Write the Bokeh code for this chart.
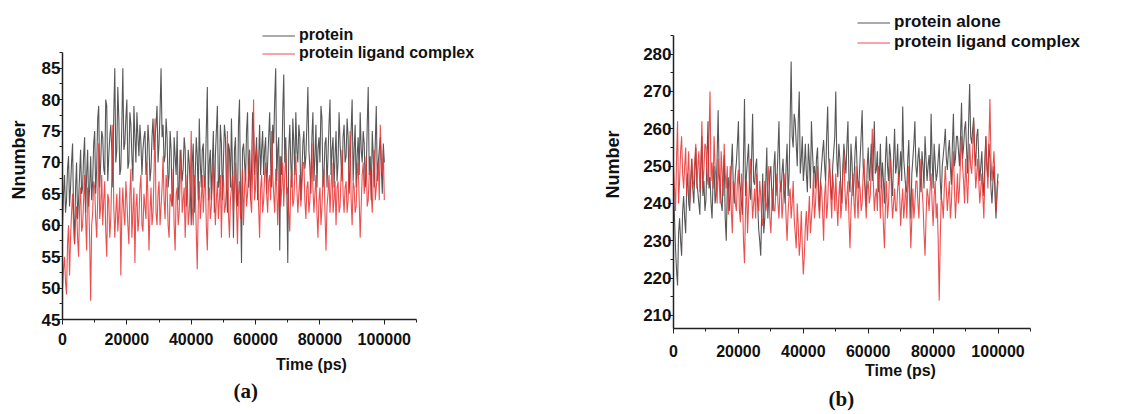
from bokeh.plotting import figure
from bokeh.layouts import row
from bokeh.models import (Range1d, SingleIntervalTicker, Legend, LegendItem, Title,
                          NumeralTickFormatter)
from bokeh.embed import file_html
from bokeh.resources import INLINE

STEP = 625  # ps between the samples of each list; the *_mid lists sit halfway between

# ---- panel (a) ----
a_protein = [
    60, 68, 64, 71, 66, 73, 57, 70, 64, 72,
    66, 74, 68, 63, 71, 67, 75, 69, 79, 70,
    74, 68, 79, 71, 76, 66, 85, 72, 77, 69,
    85, 73, 80, 70, 76, 67, 74, 78, 71, 73,
    72, 75, 70, 73, 69, 77, 74, 79, 73, 85,
    76, 71, 74, 68, 72, 65, 71, 75, 66, 70,
    69, 72, 65, 70, 60, 73, 68, 71, 77, 66,
    73, 68, 82, 70, 64, 75, 71, 79, 67, 73,
    70, 74, 62, 72, 77, 58, 74, 63, 80, 54,
    73, 67, 78, 72, 69, 75, 71, 64, 76, 72,
    68, 74, 70, 78, 66, 73, 85, 72, 56, 68,
    84, 74, 54, 76, 66, 73, 78, 70, 74, 68,
    75, 71, 82, 69, 74, 67, 76, 72, 70, 77,
    68, 74, 71, 80, 72, 66, 75, 70, 73, 67,
    76, 71, 74, 69, 80, 72, 66, 74, 78, 70,
    73, 68, 82, 71, 75, 66, 79, 70, 74, 65, 70,
]
a_protein_mid = [
    65, 62, 69, 63, 70, 62, 66, 61, 68, 65,
    71, 62, 72, 66, 64, 73, 65, 77, 66, 75,
    69, 80, 67, 74, 72, 78, 70, 82, 68, 76,
    72, 77, 69, 78, 71, 79, 70, 74, 76, 68,
    74, 68, 76, 67, 74, 72, 76, 70, 78, 74,
    70, 77, 66, 75, 63, 74, 68, 64, 72, 67,
    74, 63, 72, 66, 70, 62, 74, 64, 70, 72,
    66, 75, 64, 72, 70, 62, 75, 66, 76, 64,
    76, 66, 73, 66, 69, 72, 64, 76, 65, 72,
    70, 75, 66, 64, 78, 68, 74, 70, 68, 75,
    72, 65, 74, 70, 76, 80, 67, 74, 71, 78,
    70, 66, 72, 70, 77, 68, 72, 76, 64, 73,
    69, 76, 72, 65, 78, 71, 66, 74, 79, 66,
    73, 66, 76, 68, 74, 71, 67, 78, 70, 74,
    70, 77, 65, 75, 67, 76, 71, 68, 72, 75,
    66, 76, 68, 64, 71, 73, 67, 72, 69, 73,
]
a_complex = [
    50, 55, 49, 60, 58, 65, 57, 63, 55, 66,
    60, 68, 56, 64, 48, 62, 66, 58, 73, 63,
    60, 67, 55, 64, 61, 76, 58, 65, 62, 52,
    66, 60, 64, 57, 69, 62, 54, 65, 61, 68,
    59, 63, 70, 56, 66, 62, 77, 60, 67, 63,
    71, 61, 66, 58, 64, 69, 56, 66, 62, 72,
    64, 58, 68, 62, 75, 60, 66, 53, 67, 64,
    62, 68, 56, 66, 63, 70, 60, 67, 64, 58,
    68, 63, 75, 58, 66, 62, 70, 57, 67, 64,
    60, 69, 65, 72, 62, 80, 66, 70, 58, 68,
    64, 70, 62, 68, 75, 65, 69, 60, 71, 66,
    63, 72, 66, 59, 69, 64, 71, 62, 68, 66,
    70, 61, 67, 64, 73, 62, 68, 58, 66, 63,
    69, 56, 65, 62, 70, 64, 60, 67, 63, 72,
    62, 67, 64, 75, 60, 66, 63, 70, 58, 68,
    65, 71, 64, 69, 62, 72, 66, 70, 76, 68, 64,
]
a_complex_mid = [
    53, 51, 57, 52, 62, 60, 61, 58, 63, 59,
    64, 61, 66, 58, 60, 67, 61, 64, 61, 68,
    64, 59, 65, 58, 68, 63, 62, 59, 66, 62,
    62, 67, 60, 65, 58, 66, 63, 59, 66, 60,
    65, 61, 64, 62, 60, 68, 62, 65, 60, 66,
    64, 68, 60, 65, 63, 60, 65, 60, 67, 62,
    66, 63, 60, 66, 63, 68, 59, 63, 61, 68,
    66, 60, 64, 61, 67, 65, 64, 61, 68, 66,
    62, 66, 62, 64, 68, 66, 63, 65, 61, 69,
    66, 63, 68, 64, 68, 64, 72, 63, 66, 62,
    68, 65, 67, 64, 68, 62, 66, 66, 63, 70,
    68, 65, 62, 67, 63, 68, 66, 65, 63, 70,
    64, 66, 62, 69, 66, 65, 62, 64, 60, 67,
    62, 63, 68, 66, 62, 67, 66, 62, 68, 65,
    66, 62, 70, 64, 67, 62, 68, 64, 63, 70,
    68, 63, 68, 65, 68, 64, 68, 64, 71, 72,
]

# ---- panel (b) ----
b_protein = [
    244, 228, 218, 236, 226, 242, 232, 248, 238, 252,
    240, 255, 243, 237, 258, 246, 241, 262, 247, 236,
    250, 243, 265, 245, 238, 253, 230, 247, 242, 256,
    240, 251, 262, 244, 237, 268, 248, 256, 241, 264,
    245, 252, 233, 226, 248, 236, 255, 242, 250, 238,
    254, 246, 262, 243, 252, 240, 256, 248, 278, 255,
    262, 250, 270, 252, 246, 256, 243, 251, 262, 248,
    244, 255, 238, 250, 257, 246, 266, 249, 241, 254,
    270, 247, 252, 240, 256, 248, 262, 243, 251, 246,
    258, 244, 252, 265, 247, 239, 255, 250, 246, 262,
    249, 243, 256, 251, 240, 258, 246, 253, 242, 260,
    250, 245, 254, 266, 248, 243, 257, 236, 252, 262,
    247, 255, 243, 250, 258, 246, 253, 264, 244, 251,
    248, 256, 241, 253, 260, 249, 257, 245, 264, 252,
    258, 250, 267, 255, 262, 248, 272, 256, 263, 250,
    260, 246, 254, 242, 258, 247, 252, 240, 250, 236, 248,
]
b_protein_mid = [
    236, 222, 232, 230, 238, 236, 244, 240, 246, 244,
    248, 246, 240, 250, 242, 238, 252, 244, 240, 246,
    240, 252, 248, 240, 248, 236, 244, 238, 250, 244,
    248, 256, 246, 240, 252, 242, 252, 244, 252, 246,
    250, 240, 230, 238, 232, 246, 236, 248, 242, 250,
    242, 254, 246, 248, 244, 250, 242, 262, 258, 264,
    256, 262, 248, 258, 250, 248, 256, 244, 254, 250,
    252, 244, 246, 254, 250, 258, 252, 244, 250, 258,
    252, 256, 244, 250, 252, 256, 246, 256, 242, 254,
    250, 246, 258, 250, 244, 250, 246, 256, 252, 248,
    254, 248, 244, 246, 252, 250, 256, 246, 252, 248,
    256, 249, 246, 252, 244, 252, 244, 248, 256, 250,
    252, 248, 254, 244, 252, 250, 246, 252, 256, 246,
    252, 246, 250, 256, 252, 254, 250, 256, 250, 258,
    254, 258, 252, 260, 254, 262, 258, 260, 254, 258,
    252, 250, 246, 252, 250, 256, 244, 246, 242, 244,
]
b_complex = [
    250, 238, 262, 246, 258, 244, 255, 248, 240, 252,
    246, 256, 250, 243, 262, 249, 255, 245, 270, 251,
    258, 246, 252, 240, 248, 256, 244, 237, 250, 232,
    245, 238, 249, 235, 243, 224, 246, 240, 252, 236,
    244, 248, 238, 242, 234, 246, 240, 250, 232, 244,
    238, 248, 236, 246, 240, 244, 230, 242, 236, 246,
    232, 240, 226, 238, 221, 234, 230, 242, 236, 248,
    240, 250, 236, 244, 230, 246, 240, 252, 236, 244,
    248, 234, 246, 240, 254, 238, 246, 228, 244, 240,
    250, 236, 244, 240, 252, 236, 246, 242, 260, 238,
    244, 250, 236, 242, 228, 246, 240, 252, 236, 244,
    238, 248, 234, 244, 240, 236, 250, 228, 244, 240,
    246, 236, 252, 240, 226, 244, 238, 248, 234, 246,
    240, 214, 242, 236, 250, 238, 246, 240, 254, 236,
    248, 244, 258, 246, 252, 240, 256, 248, 262, 244,
    252, 240, 248, 236, 258, 244, 268, 246, 254, 238, 246,
]
b_complex_mid = [
    244, 252, 240, 254, 248, 250, 242, 254, 246, 244,
    252, 244, 254, 250, 244, 256, 248, 258, 246, 244,
    250, 240, 246, 254, 242, 248, 250, 244, 238, 246,
    240, 246, 238, 248, 230, 238, 232, 246, 244, 240,
    236, 242, 246, 236, 240, 238, 246, 236, 240, 238,
    244, 240, 244, 236, 248, 236, 238, 244, 240, 236,
    228, 234, 230, 228, 226, 238, 236, 232, 240, 236,
    246, 240, 246, 238, 242, 236, 248, 242, 248, 238,
    240, 242, 236, 248, 244, 242, 236, 238, 248, 236,
    242, 246, 238, 248, 242, 244, 240, 250, 246, 242,
    238, 244, 248, 234, 240, 236, 248, 242, 240, 238,
    244, 242, 240, 236, 246, 244, 238, 236, 236, 246,
    240, 246, 244, 232, 236, 242, 244, 240, 242, 236,
    230, 230, 240, 244, 244, 242, 236, 248, 244, 242,
    240, 252, 250, 240, 246, 248, 250, 254, 252, 248,
    246, 244, 242, 248, 250, 256, 252, 250, 246, 242,
]

FONT = "Liberation Sans"
BLACK = "#3a3a3a"
RED = "#e8302f"
X_MAX = 110000


def merged(main, mid):
    """Interleave the samples read on the grid with those read halfway between."""
    t, v = [], []
    for i, val in enumerate(main):
        t.append(i * STEP)
        v.append(val)
        if i < len(mid):
            t.append(i * STEP + STEP / 2)
            v.append(mid[i])
    return t, v


def make_panel(w, h, left, axis_px, top_px, yr, ystep, prot, comp, names, ylabel,
               caption, cap_offset, cap_standoff, legend_loc, legend_font,
               ylab_standoff, xlab_standoff, xtick_standoff):
    bottom = 86
    frame_w = w - left
    frame_h = h - bottom
    y0, y1 = yr
    # the frame extends to the top/right edges; the axes are bounded to the data box
    y_top = y1 + top_px * (y1 - y0) / (frame_h - top_px)
    x_end = X_MAX * frame_w / axis_px
    p = figure(width=w, height=h, output_backend="svg", toolbar_location=None,
               x_range=Range1d(0, x_end), y_range=Range1d(y0, y_top),
               min_border_left=left, min_border_right=0,
               min_border_top=0, min_border_bottom=bottom)
    p.outline_line_color = None
    p.grid.visible = False
    t1, v1 = prot
    t2, v2 = comp
    r1 = p.line(t1, v1, line_color=BLACK, line_width=1.1, line_alpha=0.85)
    r2 = p.line(t2, v2, line_color=RED, line_width=1.1, line_alpha=0.85)

    p.xaxis.ticker = SingleIntervalTicker(interval=20000, num_minor_ticks=2)
    p.yaxis.ticker = SingleIntervalTicker(interval=ystep, num_minor_ticks=2)
    p.xaxis.formatter = NumeralTickFormatter(format="0")
    p.xaxis.bounds = (0, X_MAX)
    p.yaxis.bounds = (y0, y1)
    for ax in (p.xaxis[0], p.yaxis[0]):
        ax.axis_line_color = "#222222"
        ax.axis_line_width = 1.5
        ax.major_tick_line_color = "#222222"
        ax.minor_tick_line_color = "#222222"
        ax.major_tick_in = 0
        ax.major_tick_out = 5
        ax.minor_tick_in = 0
        ax.minor_tick_out = 3
        ax.major_label_text_font = FONT
        ax.major_label_text_font_style = "bold"
        ax.major_label_text_color = "#111111"
        ax.axis_label_text_font = FONT
        ax.axis_label_text_font_style = "bold"
        ax.axis_label_text_color = "#111111"
    p.xaxis.major_label_text_font_size = "16px"
    p.yaxis.major_label_text_font_size = "17px"
    p.xaxis.axis_label = "Time (ps)"
    p.xaxis.axis_label_text_font_size = "16px"
    p.yaxis.axis_label = ylabel
    p.yaxis.axis_label_text_font_size = "18px"
    p.yaxis.major_label_standoff = -3
    p.xaxis.major_label_standoff = xtick_standoff
    p.yaxis.axis_label_standoff = ylab_standoff
    p.xaxis.axis_label_standoff = xlab_standoff

    leg = Legend(items=[LegendItem(label=names[0], renderers=[r1]),
                        LegendItem(label=names[1], renderers=[r2])],
                 location=legend_loc, orientation="vertical",
                 border_line_alpha=0, background_fill_alpha=0,
                 padding=0, margin=0, spacing=0,
                 glyph_width=33, glyph_height=17, label_height=17,
                 label_standoff=4,
                 label_text_font=FONT, label_text_font_style="bold",
                 label_text_font_size=legend_font, label_text_color="#111111")
    p.add_layout(leg)

    cap = Title(text=caption, align="left", offset=cap_offset, standoff=cap_standoff,
                text_font="Liberation Serif", text_font_style="bold",
                text_font_size="21px", text_color="#111111")
    p.add_layout(cap, "below")
    return p


pa = make_panel(560, 405, 62, 354, 52, (45, 87.5), 5,
                merged(a_protein, a_protein_mid), merged(a_complex, a_complex_mid),
                ["protein", "protein ligand complex"], "Nnumber", "(a)", 171, 2,
                (200, 257), "16px", 10, 8, 8)
pb = make_panel(567, 414, 113, 357, 35, (206.5, 285), 10,
                merged(b_protein, b_protein_mid), merged(b_complex, b_complex_mid),
                ["protein alone", "protein ligand complex"], "Number", "(b)", 155, 6,
                (184, 276), "17px", 17, 2, 11)

layout = row(pa, pb)
open("out.html", "w").write(file_html(layout, INLINE))
